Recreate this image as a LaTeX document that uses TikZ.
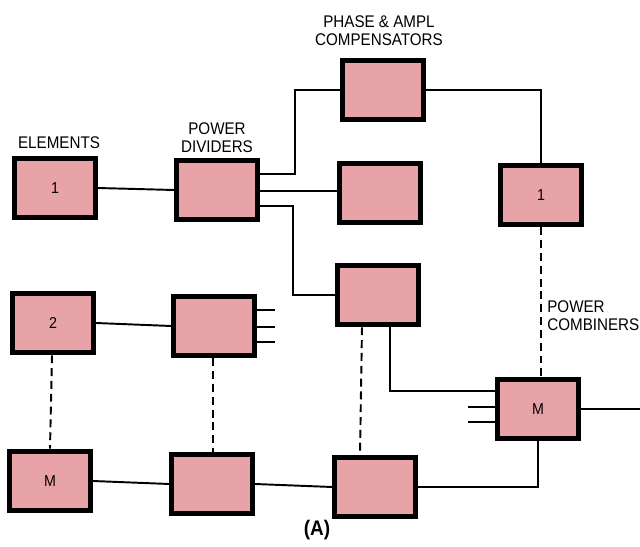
\documentclass[tikz,border=0pt]{standalone}
\usepackage{fontspec}
\newfontfamily\labelfont[FakeStretch=0.9]{Liberation Sans}
\usetikzlibrary{calc}
\definecolor{boxpink}{RGB}{232,163,168}

\begin{document}
\begin{tikzpicture}[x=0.02cm, y=-0.02cm,
  box/.style={draw=black, fill=boxpink, line width=2.8pt, inner sep=0pt,
    minimum width=46pt, minimum height=34pt,
    font=\labelfont\fontsize{9}{10}\selectfont},
  wire/.style={line width=1.1pt},
  link/.style={line width=1.1pt, dash pattern=on 4.5pt off 2.8pt},
  lbl/.style={font=\labelfont\fontsize{9.6}{10.2}\selectfont, align=center, inner sep=0pt}]
  \useasboundingbox (0,0) rectangle (640,547);
  % Elements
  \node[box] (el1) at (55,188) {1};
  \node[box] (el2) at (53,323) {2};
  \node[box] (elM) at (50,481) {M};
  % Power dividers
  \node[box] (div1) at (217,190) {};
  \node[box] (div2) at (214,326) {};
  \node[box] (divM) at (212,484) {};
  % Phase and amplitude compensators
  \node[box] (ph1) at (383,90) {};
  \node[box] (ph2) at (380,193) {};
  \node[box] (ph3) at (378,295) {};
  \node[box] (phM) at (375,487) {};
  % Power combiners
  \node[box] (comb1) at (541,195) {1};
  \node[box] (combM) at (538,409) {M};
  % Labels
  \node[lbl] (elemlbl) at (59,143) {ELEMENTS};
  \node[lbl] (divlbl) at (217,138) {POWER\\DIVIDERS};
  \node[lbl] (phlbl) at (379,31) {PHASE \& AMPL\\COMPENSATORS};
  \node[lbl, anchor=west, align=left] (comblbl) at (547,316) {POWER\\COMBINERS};
  \node[lbl, font=\labelfont\bfseries\fontsize{12}{14}\selectfont] (caption) at (317,530) {(A)};
  % Row 1
  \draw[wire] (el1.east) -- (div1.west);
  \draw[wire] ($(div1.east)+(0,-16)$) -- ++(35,0) |- (ph1.west);
  \draw[wire] ($(div1.east)+(0,1)$) -- ($(ph2.west)+(0,-2)$);
  \draw[wire] ($(div1.east)+(0,16)$) -- ++(33,0) |- (ph3.west);
  \draw[wire] (ph1.east) -| (comb1.north);
  \draw[link] (comb1.south) -- (comb1.south |- combM.north);
  \draw[wire] ($(ph3.south)+(12,0)$) |- ($(combM.west)+(0,-18)$);
  \draw[wire] ($(combM.west)+(0,-2)$) -- ++(-27,0);
  \draw[wire] ($(combM.west)+(0,13)$) -- ++(-27,0);
  \draw[wire] (combM.east) -- ++(60,0);
  % Row 2
  \draw[wire] (el2.east) -- (div2.west);
  \draw[wire] ($(div2.east)+(0,-16)$) -- ++(18,0);
  \draw[wire] ($(div2.east)+(0,1)$) -- ++(18,0);
  \draw[wire] ($(div2.east)+(0,16)$) -- ++(18,0);
  % Dashed links down to row M
  \draw[link] ($(el2.south)+(-1,0)$) -- ($(elM.north)+(0,0)$);
  \draw[link] ($(div2.south)+(-1,0)$) -- ($(divM.north)+(1,0)$);
  \draw[link] ($(ph3.south)+(-16,0)$) -- ($(phM.north)+(-15,0)$);
  % Row M
  \draw[wire] (elM.east) -- (divM.west);
  \draw[wire] (divM.east) -- (phM.west);
  \draw[wire] (phM.east) -| (combM.south);
\end{tikzpicture}
\end{document}
